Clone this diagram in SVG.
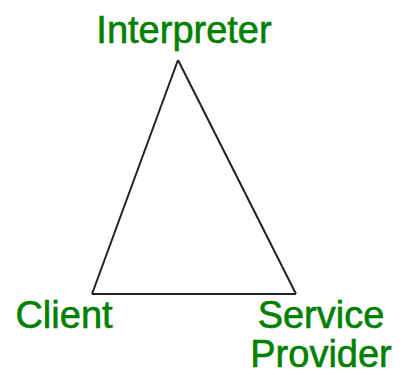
<svg xmlns="http://www.w3.org/2000/svg" width="406" height="375" viewBox="0 0 406 375">
<style>
.lbl{font-family:"Liberation Sans",Arial,sans-serif;font-size:38px;fill:#008000;stroke:#008000;stroke-width:0.6;text-anchor:middle}
.edge{stroke:#222;stroke-width:2;fill:none}
</style>
<rect width="406" height="375" fill="#fff"/>
<g id="connectors">
<line class="edge" x1="178" y1="60" x2="92" y2="294"/>
<line class="edge" x1="178" y1="60" x2="296" y2="294"/>
<line class="edge" x1="92" y1="294" x2="296" y2="294"/>
</g>
<g id="interpreter"><text class="lbl" x="184" y="43">Interpreter</text></g>
<g id="client"><text class="lbl" x="64" y="328">Client</text></g>
<g id="service-provider"><text class="lbl" x="321" y="328">Service</text><text class="lbl" x="321" y="367">Provider</text></g>
</svg>
